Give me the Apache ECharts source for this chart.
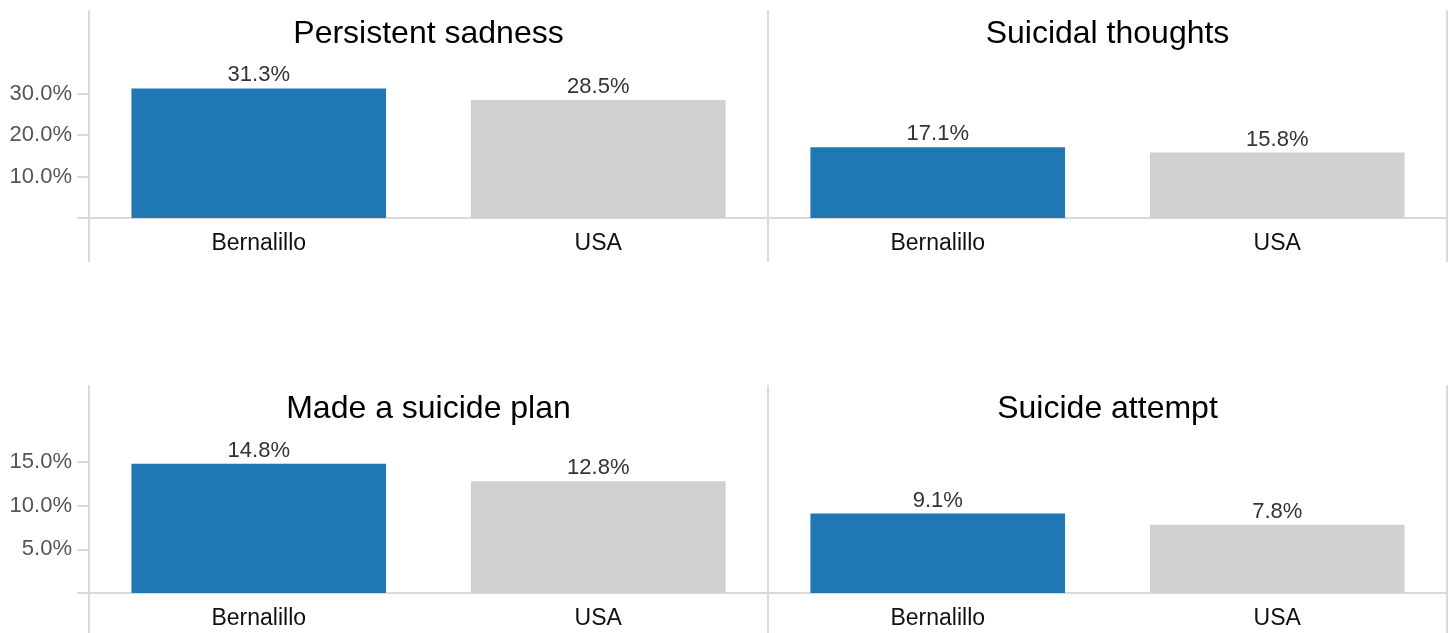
<!DOCTYPE html>
<html>
<head>
<meta charset="utf-8">
<script src="https://cdn.jsdelivr.net/npm/echarts@6/dist/echarts.min.js"></script>
<style>
html, body { margin: 0; padding: 0; background: #fff; }
#main { width: 1452px; height: 633px; }
</style>
</head>
<body>
<div id="main"></div>
<script>
var categories = ['Bernalillo', 'USA'];
var titles = ['Persistent sadness', 'Suicidal thoughts', 'Made a suicide plan', 'Suicide attempt'];
var bernalillo = [31.3, 17.1, 14.8, 9.1];
var usa = [28.5, 15.8, 12.8, 7.8];
var rowMax = [50, 23.7];
var rowTicks = [[0, 10, 20, 30], [0, 5, 10, 15]];

var font = 'Liberation Sans, Arial, sans-serif';
var lineColor = '#dadada';
var barColors = ['#1f77b4', '#d0d0d0'];

// panel layout
var panelLeft = [89, 768];
var panelWidth = 679;
var rowTop = [11, 386];
var plotHeight = 207;
var headerHeight = 44;

function pct(v) { return v.toFixed(1) + '%'; }

var grids = [], xAxes = [], yAxes = [], series = [], titleList = [], lines = [];

for (var i = 0; i < 4; i++) {
    var row = Math.floor(i / 2), col = i % 2;
    grids.push({ left: panelLeft[col], top: rowTop[row], width: panelWidth, height: plotHeight });

    xAxes.push({
        type: 'category', gridIndex: i, data: categories,
        axisLine: { lineStyle: { color: lineColor, width: 2 } },
        axisTick: { length: 10, lineStyle: { color: lineColor, width: 2 } },
        axisLabel: { color: '#111', fontSize: 23, fontFamily: font, margin: 14 }
    });

    var yIndex = yAxes.length;
    yAxes.push({
        type: 'value', gridIndex: i, min: 0, max: rowMax[row],
        splitLine: { show: false },
        axisLine: { show: true, lineStyle: { color: lineColor, width: 2 } },
        axisTick: { show: col == 0, length: 12, customValues: rowTicks[row], lineStyle: { color: lineColor, width: 2 } },
        axisLabel: {
            show: col == 0, customValues: rowTicks[row].slice(1), formatter: pct,
            color: '#555', fontSize: 22, fontFamily: font, margin: 17, padding: [3, 0, 0, 0]
        }
    });
    // right border of the right-hand panels
    if (col == 1) {
        yAxes.push({
            type: 'value', gridIndex: i, position: 'right', min: 0, max: rowMax[row],
            splitLine: { show: false },
            axisLine: { show: true, lineStyle: { color: lineColor, width: 2 } },
            axisTick: { show: false }, axisLabel: { show: false }
        });
    }

    series.push({
        type: 'bar', xAxisIndex: i, yAxisIndex: yIndex,
        data: [bernalillo[i], usa[i]],
        barWidth: '75%',
        itemStyle: { color: function (p) { return barColors[p.dataIndex]; } },
        label: {
            show: true, position: 'top', distance: 2,
            formatter: function (p) { return pct(p.value); },
            color: '#333', fontSize: 22, fontFamily: font
        }
    });

    titleList.push({
        text: titles[i], left: panelLeft[col] + panelWidth / 2, top: rowTop[row] + 7,
        textAlign: 'center', padding: 0,
        textStyle: { fontSize: 32, fontWeight: 'normal', color: '#000', fontFamily: font }
    });
}

// frame lines running down through the category label rows
for (var r = 0; r < 2; r++) {
    var y0 = rowTop[r] + plotHeight;
    [panelLeft[0], panelLeft[1], panelLeft[1] + panelWidth].forEach(function (x) {
        lines.push({
            type: 'line', silent: true,
            shape: { x1: x, y1: y0, x2: x, y2: y0 + headerHeight },
            style: { stroke: lineColor, lineWidth: 2 }
        });
    });
}

var chart = echarts.init(document.getElementById('main'));
chart.setOption({
    animation: false,
    title: titleList,
    grid: grids,
    xAxis: xAxes,
    yAxis: yAxes,
    series: series,
    graphic: lines
});
</script>
</body>
</html>
